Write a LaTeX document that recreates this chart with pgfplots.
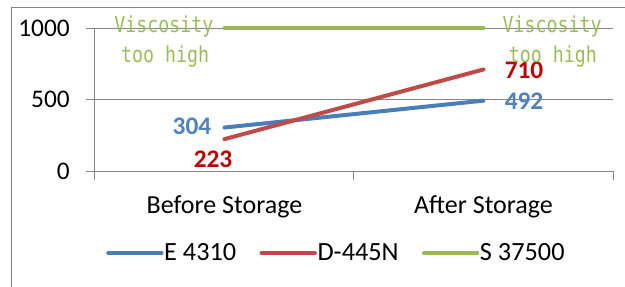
\documentclass[border=0pt]{standalone}
\usepackage{fontspec}
\setmainfont{Carlito}
\newfontfamily\monofont[FakeStretch=0.83]{DejaVu Sans Mono}
\usepackage{pgfplots}
\pgfplotsset{compat=1.18}
\definecolor{ublue}{HTML}{4A7EBB}
\definecolor{ured}{HTML}{BE4B48}
\definecolor{ugreen}{HTML}{98B954}
\definecolor{lblue}{HTML}{4F81BD}
\definecolor{lred}{HTML}{C00000}
\definecolor{lgreen}{HTML}{9BBB59}
\definecolor{ggray}{HTML}{868686}
\begin{document}
\begin{tikzpicture}
\useasboundingbox (-71.25pt,-86.25pt) rectangle (397.5pt,128.25pt);
\draw[ggray, line width=0.75pt] (-62.25pt,-100pt) -- (-62.25pt,122.25pt) -- (420pt,122.25pt);
\begin{axis}[
  at={(0,0)}, anchor=south west,
  scale only axis,
  width=388.5pt, height=107.25pt,
  xmin=-0.5, xmax=1.5, ymin=0, ymax=1000,
  axis x line*=bottom, axis y line*=left,
  axis line style={-, draw=ggray, line width=0.75pt},
  xtick={-0.5,0.5,1.5}, xticklabels={},
  extra x ticks={0,1}, extra x tick labels={Before Storage, After Storage},
  extra x tick style={grid=none, major tick length=0pt,
    xticklabel style={anchor=base, inner sep=0pt, yshift=-31.7pt, font=\fontsize{19.5}{21}\selectfont}},
  ytick={0,500,1000}, yticklabels={0,500,1000},
  ymajorgrids, grid style={ggray, line width=0.75pt},
  tick style={draw=ggray, line width=0.75pt},
  tick align=outside, major tick length=6.75pt,
  ticklabel style={font=\fontsize{19}{21}\selectfont},
  yticklabel style={anchor=east, inner sep=0pt, xshift=-20.25pt+6.75pt+1.5pt},
  legend style={draw=none, fill=none, at={(0.466,-0.573)}, anchor=center,
    font=\fontsize{19.7}{21}\selectfont, nodes={inner sep=1.5pt},
    /tikz/every even column/.append style={column sep=16pt},
    /tikz/every odd column/.append style={column sep=-1pt}},
  legend columns=3,
  legend image code/.code={\draw[#1, line cap=round] (0pt,0pt) -- (40pt,0pt);},
  every axis plot/.append style={line width=3pt, line cap=round},
  clip=false,
]
\addplot[ublue] coordinates {(0,304) (1,492)};
\addplot[ured] coordinates {(0,223) (1,710)};
\addplot[ugreen] coordinates {(0,1000) (1,1000)};
\legend{E 4310, D-445N, S 37500}
\node[anchor=base east, text=lblue, font=\fontsize{19}{20}\selectfont\bfseries, inner sep=0pt, xshift=-9.75pt, yshift=-5.6pt] at (axis cs:0,304) {304};
\node[anchor=base, text=lred, font=\fontsize{19}{20}\selectfont\bfseries, inner sep=0pt, xshift=-8.6pt, yshift=-21.2pt] at (axis cs:0,223) {223};
\node[anchor=base west, text=lred, font=\fontsize{19}{20}\selectfont\bfseries, inner sep=0pt, xshift=15.75pt, yshift=-6.6pt] at (axis cs:1,710) {710};
\node[anchor=base west, text=lblue, font=\fontsize{19}{20}\selectfont\bfseries, inner sep=0pt, xshift=15.75pt, yshift=-7pt] at (axis cs:1,492) {492};
\node[anchor=base, text=lgreen, font=\monofont\fontsize{16.5}{18}\selectfont, inner sep=0pt, xshift=-45.4pt, yshift=-3.4pt] at (axis cs:0,1000) {Viscosity};
\node[anchor=base, text=lgreen, font=\monofont\fontsize{16.5}{18}\selectfont, inner sep=0pt, xshift=-44.6pt, yshift=-25.5pt] at (axis cs:0,1000) {too high};
\node[anchor=base, text=lgreen, font=\monofont\fontsize{16.5}{18}\selectfont, inner sep=0pt, xshift=51.4pt, yshift=-3.4pt] at (axis cs:1,1000) {Viscosity};
\node[anchor=base, text=lgreen, font=\monofont\fontsize{16.5}{18}\selectfont, inner sep=0pt, xshift=52.1pt, yshift=-25.5pt] at (axis cs:1,1000) {too high};
\end{axis}
\end{tikzpicture}
\end{document}
